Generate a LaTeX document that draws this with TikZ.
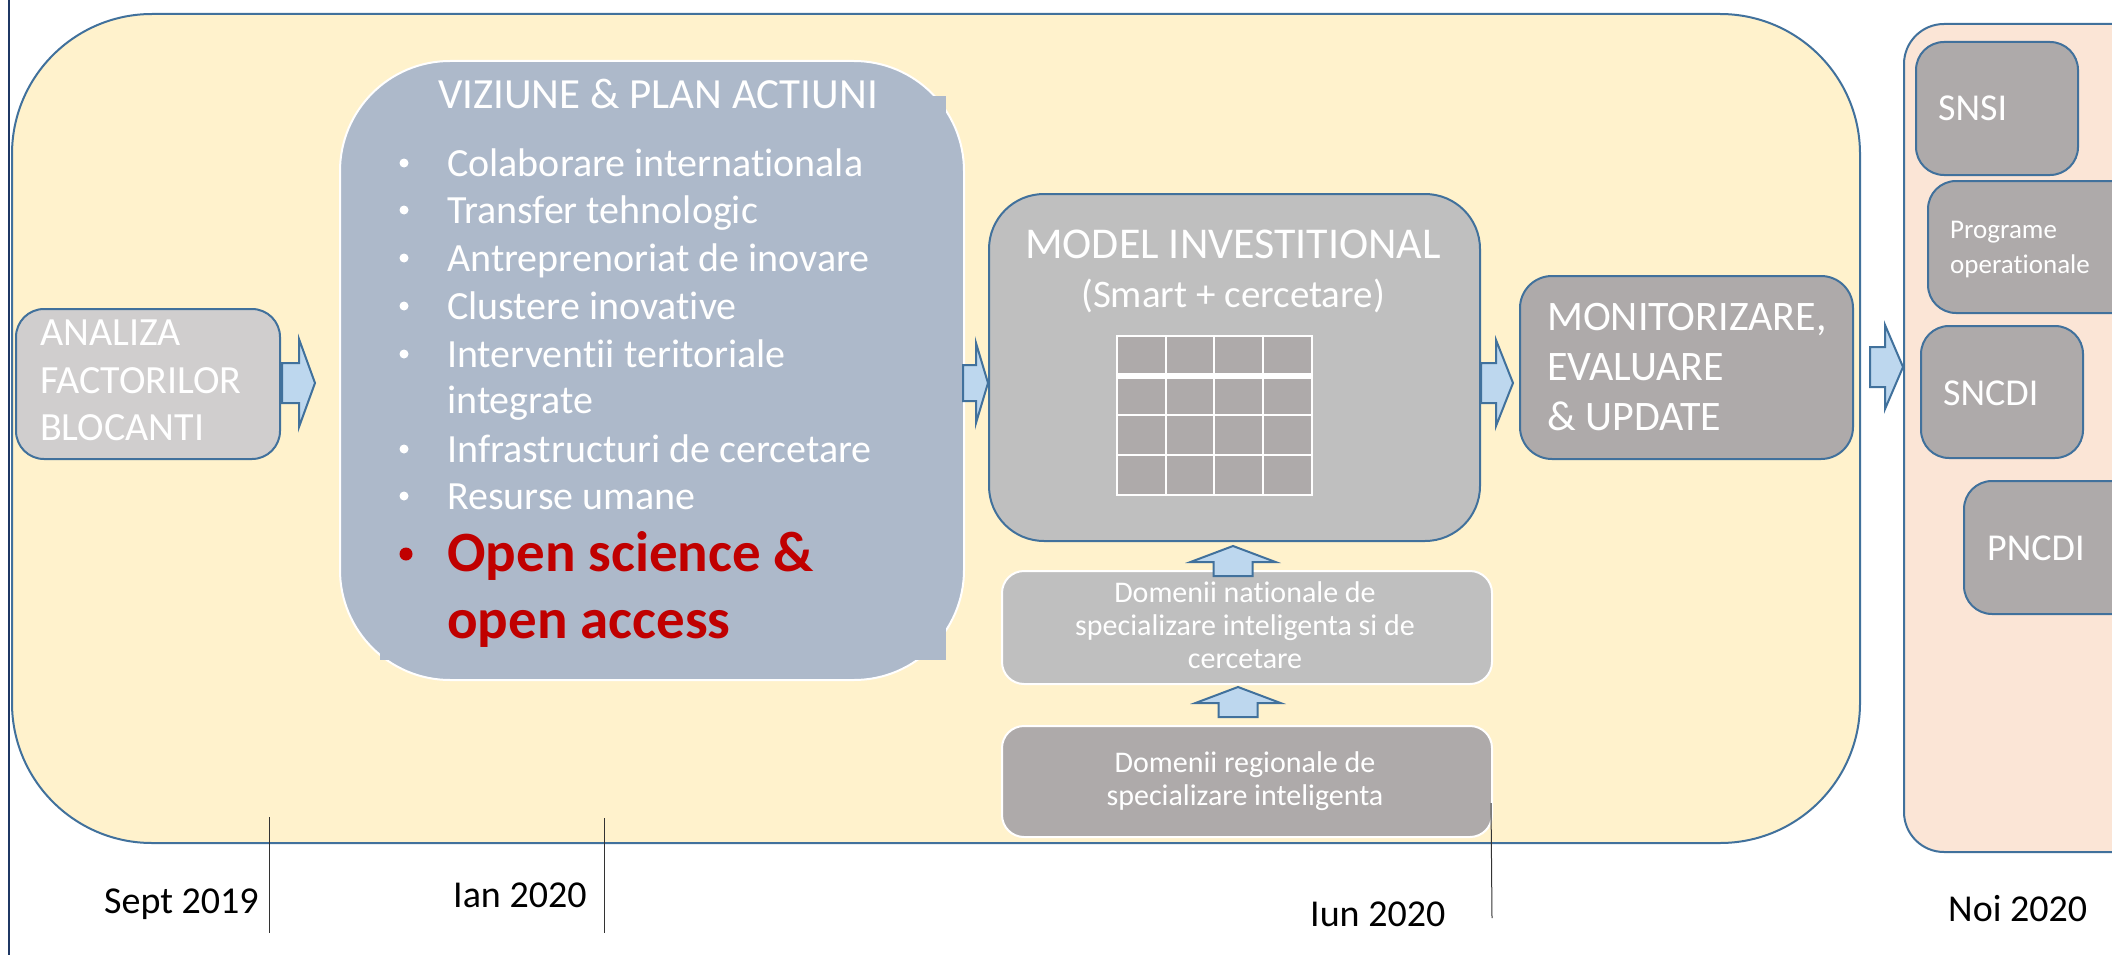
\documentclass[tikz,border=0pt]{standalone}
\usepackage{fontspec}
\setmainfont{Carlito}[Ligatures=CommonOff]
\definecolor{bl}{HTML}{41719C}
\definecolor{yel}{HTML}{FFF2CC}
\definecolor{peach}{HTML}{FBE5D6}
\definecolor{viz}{HTML}{ADB9CA}
\definecolor{lg}{HTML}{BFBFBF}
\definecolor{dg}{HTML}{AEAAAA}
\definecolor{ag}{HTML}{D0CECE}
\definecolor{arr}{HTML}{BDD7EE}
\definecolor{red}{HTML}{C00000}
\definecolor{navy}{HTML}{1F3864}
\newcommand\pxf[1]{\fontsize{#1}{#1}\selectfont}
\newcommand\rarr[6]{\draw[barrow] (#1,{#4-#5}) -- (#2,{#4-#5}) -- (#2,{#4-#6}) -- (#3,#4) -- (#2,{#4+#6}) -- (#2,{#4+#5}) -- (#1,{#4+#5}) -- cycle;}
\newcommand\uarr[6]{\draw[barrow] ({#1-#5},#2) -- ({#1-#5},#3) -- ({#1-#6},#3) -- (#1,#4) -- ({#1+#6},#3) -- ({#1+#5},#3) -- ({#1+#5},#2) -- cycle;}
\begin{document}
\begin{tikzpicture}[x=1pt,y=-1pt,
  txt/.style={text=white, inner sep=0, anchor=base west},
  dtxt/.style={text=black, inner sep=0, anchor=base west, font=\pxf{38}},
  box/.style={anchor=north west, inner sep=0, line width=2pt},
  barrow/.style={fill=arr, draw=bl, line width=2pt, line join=miter},
  dot/.style={circle, fill=white, inner sep=0, minimum size=9pt},
  tick/.style={draw=black!80, line width=1pt}]
\clip (0,0) rectangle (2112,955);
\useasboundingbox (0,0) rectangle (2112,955);
\fill[white] (0,0) rectangle (2112,955);
% left navy line
\draw[navy, line width=2pt] (9,0) -- (9,955);
% main containers
\node[box, draw=bl, fill=yel, rounded corners=140pt, minimum width=1848pt, minimum height=829pt] (main) at (11,13) {};
\node[box, draw=bl, fill=peach, rounded corners=40pt, minimum width=260pt, minimum height=828pt] (right) at (1903,23) {};
% ANALIZA
\node[box, draw=bl, fill=ag, rounded corners=28pt, minimum width=264pt, minimum height=150pt] (analiza) at (15,308) {};
\node[txt, font=\pxf{40}] (an1) at (40,345) {ANALIZA};
\node[txt, font=\pxf{40}] (an2) at (40,393) {FACTORILOR};
\node[txt, font=\pxf{40}] (an3) at (40,440) {BLOCANTI};
% VIZIUNE
\node[box, draw=white, fill=viz, rounded corners=110pt, minimum width=624pt, minimum height=619pt] (viz) at (339,60) {};
\fill[viz] (380,96) rectangle (946,660);
\node[txt, font=\pxf{43}] (vt) at (438,109) {VIZIUNE \& PLAN ACTIUNI};
\foreach \t/\y [count=\i] in {Colaborare internationala/176, Transfer tehnologic/223, Antreprenoriat de inovare/271, Clustere inovative/319, Interventii teritoriale/367, Infrastructuri de cercetare/462, Resurse umane/509}{
  \node[dot] (bb\i) at (404,\y-13) {};
  \node[txt, font=\pxf{40}] (bt\i) at (447,\y) {\t};
}
\node[txt, font=\pxf{40}] (bt8) at (447,413) {integrate};
\node[dot, fill=red, minimum size=13pt] (os0) at (406,554) {};
\node[txt, text=red, font=\pxf{57}\bfseries] (os1) at (447,571) {Open science \&};
\node[txt, text=red, font=\pxf{57}\bfseries] (os2) at (447,638) {open access};
% MODEL
\node[box, draw=bl, fill=lg, rounded corners=55pt, minimum width=491pt, minimum height=347pt] (model) at (988,193) {};
\node[txt, font=\pxf{44}] (mt) at (1025,258) {MODEL INVESTITIONAL};
\node[txt, anchor=base, font=\pxf{39}] (ms) at (1233,307) {(Smart + cercetare)};
\fill[dg] (1117,336) rectangle (1312,495);
\fill[white] (1117,373) rectangle (1312,379);
\foreach \xx in {1166,1214,1263} \draw[white, line width=2.5pt] (\xx,336) -- (\xx,495);
\foreach \yy in {415,455} \draw[white, line width=2.5pt] (1117,\yy) -- (1312,\yy);
\draw[white, line width=2.5pt] (1117,336) rectangle (1312,495);
% MONITORIZARE
\node[box, draw=bl, fill=dg, rounded corners=32pt, minimum width=333pt, minimum height=183pt] (mon) at (1519,275) {};
\node[txt, font=\pxf{42}] (m1) at (1547,330) {MONITORIZARE,};
\node[txt, font=\pxf{42}] (m2) at (1547,380) {EVALUARE};
\node[txt, font=\pxf{42}] (m3) at (1547,430) {\& UPDATE};
% Domenii
\node[box, draw=white, fill=lg, rounded corners=22pt, minimum width=490pt, minimum height=113pt] (dn) at (1001,570) {};
\node[txt, anchor=base, font=\pxf{30}] (dn1) at (1245,602) {Domenii nationale de};
\node[txt, anchor=base, font=\pxf{30}] (dn2) at (1245,635) {specializare inteligenta si de};
\node[txt, anchor=base, font=\pxf{30}] (dn3) at (1245,668) {cercetare};
\node[box, draw=white, fill=dg, rounded corners=22pt, minimum width=490pt, minimum height=111pt] (dr) at (1001,725) {};
\node[txt, anchor=base, font=\pxf{30}] (dr1) at (1245,772) {Domenii regionale de};
\node[txt, anchor=base, font=\pxf{30}] (dr2) at (1245,805) {specializare inteligenta};
% right column boxes
\node[box, draw=bl, fill=dg, rounded corners=28pt, minimum width=162pt, minimum height=133pt] (snsi) at (1915,41) {};
\node[txt, font=\pxf{38}] (snsit) at (1938,121) {SNSI};
\node[box, draw=bl, fill=dg, rounded corners=28pt, minimum width=230pt, minimum height=132pt] (po) at (1927,180) {};
\node[txt, font=\pxf{27}] (po1) at (1950,238) {Programe};
\node[txt, font=\pxf{27}] (po2) at (1950,273) {operationale};
\node[box, draw=bl, fill=dg, rounded corners=28pt, minimum width=162pt, minimum height=132pt] (sncdi) at (1920,325) {};
\node[txt, font=\pxf{38}] (sncdit) at (1943,405) {SNCDI};
\node[box, draw=bl, fill=dg, rounded corners=28pt, minimum width=200pt, minimum height=133pt] (pncdi) at (1963,480) {};
\node[txt, font=\pxf{38}] (pncdit) at (1987,560) {PNCDI};
% block arrows
\rarr{282}{299}{315}{383}{20}{44}
\rarr{963}{976}{988}{383}{18}{40}
\rarr{1481}{1496}{1513}{383}{20}{43}
\rarr{1870}{1885}{1903}{367}{20}{42}
\uarr{1233}{576}{562}{546}{19.5}{42.5}
\uarr{1238}{717}{703}{687}{19.5}{42.5}
% timeline
\draw[tick] (269,817) -- (269,933);
\draw[tick] (604,818) -- (604,933);
\draw[tick] (1491,803) -- (1492,918);
\node[dtxt] (d1) at (104,913) {Sept 2019};
\node[dtxt] (d2) at (453,907) {Ian 2020};
\node[dtxt] (d3) at (1310,926) {Iun 2020};
\node[dtxt] (d4) at (1948,921) {Noi 2020};
\end{tikzpicture}
\end{document}
